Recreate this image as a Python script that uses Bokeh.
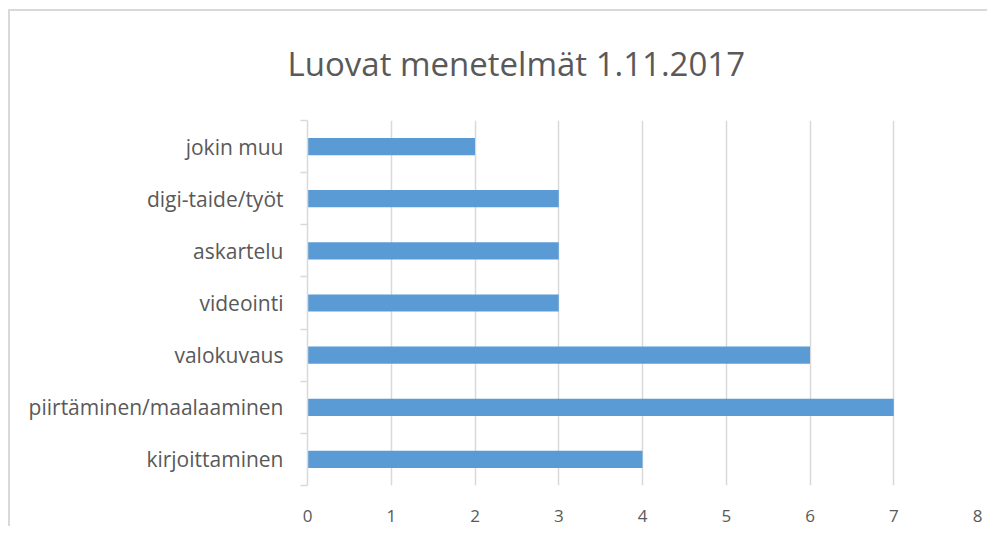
from bokeh.plotting import figure
from bokeh.models import Range1d, FixedTicker
from bokeh.embed import file_html
from bokeh.resources import INLINE

categories = ["kirjoittaminen", "piirtäminen/maalaaminen", "valokuvaus",
              "videointi", "askartelu", "digi-taide/työt", "jokin muu"]
values = [4, 7, 6, 3, 3, 3, 2]
x_ticks = [0, 1, 2, 3, 4, 5, 6, 7, 8]
title_text = "Luovat menetelmät 1.11.2017"

positions = [i + 0.5 for i in range(len(categories))]
boundaries = list(range(len(categories) + 1))

p = figure(width=987, height=526, output_backend="svg", toolbar_location=None,
           x_range=Range1d(0, 8), y_range=Range1d(0, len(categories)),
           min_border_left=307, min_border_right=10, min_border_top=120,
           min_border_bottom=41)
p.border_fill_color = None
p.background_fill_color = "white"
p.styles = {
    "background": "linear-gradient(#D9D9D9, #D9D9D9) 8px 9px / 2px 100% no-repeat, "
                  "linear-gradient(#D9D9D9, #D9D9D9) 8px 9px / 100% 2px no-repeat, white"
}
p.outline_line_color = None

p.hbar(y=positions, right=values, left=0, height=0.33, color="#5B9BD5", line_color=None)

p.title.text = title_text
p.title.align = "left"
p.title.offset = -20
p.title.standoff = 70
p.title.text_font = "Open Sans"
p.title.text_font_size = "33px"
p.title.text_font_style = "normal"
p.title.text_color = "#595959"

p.xaxis.ticker = FixedTicker(ticks=x_ticks)
p.xaxis.axis_line_color = None
p.xaxis.major_tick_line_color = None
p.xaxis.minor_tick_line_color = None
p.xaxis.major_label_standoff = 18
p.xaxis.major_label_text_font = "Open Sans"
p.xaxis.major_label_text_font_size = "17px"
p.xaxis.major_label_text_color = "#595959"

p.yaxis.ticker = FixedTicker(ticks=positions, minor_ticks=boundaries)
p.yaxis.major_label_overrides = {pos: c for pos, c in zip(positions, categories)}
p.yaxis.axis_line_color = "#D9D9D9"
p.yaxis.axis_line_width = 1.5
p.yaxis.major_tick_line_color = None
p.yaxis.major_tick_out = 0
p.yaxis.major_tick_in = 0
p.yaxis.minor_tick_line_color = "#D9D9D9"
p.yaxis.minor_tick_line_width = 1.5
p.yaxis.minor_tick_out = 7
p.yaxis.minor_tick_in = 0
p.yaxis.major_label_standoff = 17
p.yaxis.major_label_text_font = "Open Sans"
p.yaxis.major_label_text_font_size = "21px"
p.yaxis.major_label_text_color = "#595959"

p.xgrid.ticker = FixedTicker(ticks=x_ticks)
p.xgrid.grid_line_color = "#D9D9D9"
p.xgrid.grid_line_width = 1.5
p.ygrid.grid_line_color = None

open("out.html", "w").write(file_html(p, INLINE))
